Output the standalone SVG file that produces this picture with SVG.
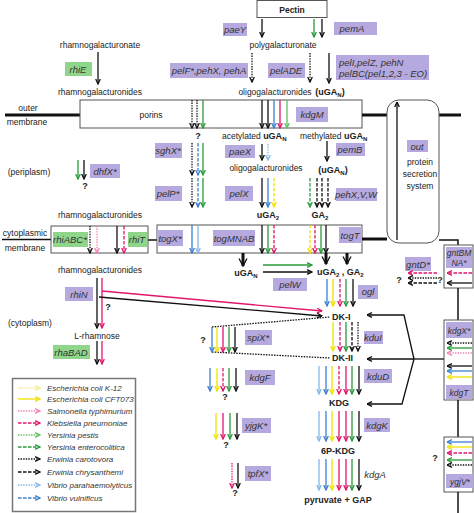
<svg xmlns="http://www.w3.org/2000/svg" width="474" height="513" viewBox="0 0 474 513">
<defs>
<style>
text{font-family:"Liberation Sans",Arial,sans-serif;font-size:8.5px;fill:#222}
.c{text-anchor:middle}
.bd{font-weight:bold;font-size:9px}
.it{font-style:italic;font-size:9.5px;text-anchor:middle;fill:#333}
.st{text-anchor:start}
.sm{font-size:8.5px}
.lg{font-style:italic;font-size:8px;fill:#333}
.pl{fill:#b6a9df}
.gl{fill:#8fd68b}
.bx{fill:#fff;stroke:#555;stroke-width:1}
.mem{fill:none;stroke:#111;stroke-width:3}
.ln{fill:none;stroke:#111;stroke-width:1.5}
path{fill:none;stroke-width:1.3}
.k{stroke:#111;marker-end:url(#mk)}
.g{stroke:#2a9a3a;marker-end:url(#mg)}
.lgr{stroke:#62bf62;marker-end:url(#mlg)}
.b{stroke:#3a80d0;marker-end:url(#mb)}
.lb{stroke:#86b7e6;marker-end:url(#mlb)}
.m{stroke:#e2166c;marker-end:url(#mm)}
.p{stroke:#ef82b8;marker-end:url(#mp)}
.y{stroke:#f0e200;marker-end:url(#my)}
.ly{stroke:#f2ec8c;marker-end:url(#mly)}
.kb{stroke:#111;stroke-width:3;marker-end:url(#mkb)}
.dt{stroke-dasharray:1.4 1.2}
.ds{stroke-dasharray:3.5 1.5}
.q{font-weight:bold;font-size:9px;text-anchor:middle}
</style>
<marker id="mk" viewBox="0 0 6 6" refX="5.5" refY="3" markerWidth="6" markerHeight="6" markerUnits="userSpaceOnUse" orient="auto"><path d="M0.5,0.7 L5.5,3 L0.5,5.3" fill="none" stroke="#111" stroke-width="1.3"/></marker>
<marker id="mg" viewBox="0 0 6 6" refX="5.5" refY="3" markerWidth="6" markerHeight="6" markerUnits="userSpaceOnUse" orient="auto"><path d="M0.5,0.7 L5.5,3 L0.5,5.3" fill="none" stroke="#2a9a3a" stroke-width="1.3"/></marker>
<marker id="mlg" viewBox="0 0 6 6" refX="5.5" refY="3" markerWidth="6" markerHeight="6" markerUnits="userSpaceOnUse" orient="auto"><path d="M0.5,0.7 L5.5,3 L0.5,5.3" fill="none" stroke="#62bf62" stroke-width="1.3"/></marker>
<marker id="mb" viewBox="0 0 6 6" refX="5.5" refY="3" markerWidth="6" markerHeight="6" markerUnits="userSpaceOnUse" orient="auto"><path d="M0.5,0.7 L5.5,3 L0.5,5.3" fill="none" stroke="#3a80d0" stroke-width="1.3"/></marker>
<marker id="mlb" viewBox="0 0 6 6" refX="5.5" refY="3" markerWidth="6" markerHeight="6" markerUnits="userSpaceOnUse" orient="auto"><path d="M0.5,0.7 L5.5,3 L0.5,5.3" fill="none" stroke="#86b7e6" stroke-width="1.3"/></marker>
<marker id="mm" viewBox="0 0 6 6" refX="5.5" refY="3" markerWidth="6" markerHeight="6" markerUnits="userSpaceOnUse" orient="auto"><path d="M0.5,0.7 L5.5,3 L0.5,5.3" fill="none" stroke="#e2166c" stroke-width="1.3"/></marker>
<marker id="mp" viewBox="0 0 6 6" refX="5.5" refY="3" markerWidth="6" markerHeight="6" markerUnits="userSpaceOnUse" orient="auto"><path d="M0.5,0.7 L5.5,3 L0.5,5.3" fill="none" stroke="#ef82b8" stroke-width="1.3"/></marker>
<marker id="my" viewBox="0 0 6 6" refX="5.5" refY="3" markerWidth="6" markerHeight="6" markerUnits="userSpaceOnUse" orient="auto"><path d="M0.5,0.7 L5.5,3 L0.5,5.3" fill="none" stroke="#f0e200" stroke-width="1.3"/></marker>
<marker id="mly" viewBox="0 0 6 6" refX="5.5" refY="3" markerWidth="6" markerHeight="6" markerUnits="userSpaceOnUse" orient="auto"><path d="M0.5,0.7 L5.5,3 L0.5,5.3" fill="none" stroke="#f2ec8c" stroke-width="1.3"/></marker>
<marker id="mkb" viewBox="0 0 10 10" refX="8.5" refY="5" markerWidth="10" markerHeight="10" markerUnits="userSpaceOnUse" orient="auto"><path d="M1,1 L8.5,5 L1,9" fill="none" stroke="#111" stroke-width="2.4"/></marker>
</defs>
<rect width="474" height="513" fill="#fff"/>

<!-- membranes and containers -->
<g id="outer-membrane">
<path class="mem" d="M5,115 H80"/>
<text x="28" y="111" class="c">outer</text>
<text x="27" y="125" class="c">membrane</text>
<rect id="porins-box" class="bx" x="80" y="100" width="282" height="28"/>
<text x="151" y="118" class="c">porins</text>
<path class="mem" d="M362,115 H387 M439,115 H461"/>
</g>
<g id="out-system">
<rect class="bx" x="387" y="100" width="52" height="143" rx="12" stroke="#333"/>
<rect class="pl" x="407" y="140" width="21" height="12"/>
<text x="417" y="150" class="it">out</text>
<text x="420" y="165" class="c">protein</text>
<text x="420" y="177" class="c">secretion</text>
<text x="420" y="189" class="c">system</text>
</g>
<g id="cyto-membrane">
<text x="25" y="236" class="c">cytoplasmic</text>
<path class="ln" d="M2,239.5 H51"/>
<text x="25" y="251" class="c">membrane</text>
<rect class="bx" x="51" y="226" width="97" height="27"/>
<path class="ln" d="M148,240 H157"/>
<rect class="bx" x="157" y="225" width="205" height="28"/>
<path class="mem" d="M362,239 H387"/>
<path class="ln" d="M439,240 H458 V245" stroke-width="2"/>
<rect class="bx" x="444" y="245" width="29" height="43"/>
<path class="ln" d="M458,288 V320" stroke-width="2"/>
<rect class="bx" x="444" y="320" width="29" height="80"/>
<path class="ln" d="M458,400 V437" stroke-width="2"/>
<rect class="bx" x="444" y="437" width="29" height="55"/>
<path class="ln" d="M458,492 V513" stroke-width="2"/>
</g>

<!-- top -->
<g id="pectin"><rect class="bx" x="257" y="0.5" width="70" height="17" stroke="#333"/><text x="292" y="13" class="c" font-weight="bold" font-size="11">Pectin</text></g>
<g id="paeY"><rect class="pl" x="223" y="23" width="24" height="13"/><text x="235" y="33" class="it">paeY</text></g>
<g id="pemA"><rect class="pl" x="334" y="22" width="43" height="13"/><text x="352" y="32" class="it">pemA</text></g>
<g id="polygalacturonate"><text x="283" y="48" class="c">polygalacturonate</text></g>
<g id="pelF"><rect class="pl" x="170" y="63" width="78" height="15"/><text x="209" y="74" class="it">pelF*,pehX, pehA</text></g>
<g id="pelADE"><rect class="pl" x="268" y="63" width="37" height="15"/><text x="286" y="74" class="it">pelADE</text></g>
<g id="pelI"><rect class="pl" x="336" y="55" width="93" height="25"/><text x="339" y="66" class="it st">pelI,pelZ, pehN</text><text x="339" y="77" class="it st">pelBC(pel1,2,3 - EO)</text></g>
<g id="oligo-top"><text x="275" y="95" class="c">oligogalacturonides</text><text x="330" y="95" class="c bd">(uGA<tspan font-size="6" dy="2">N</tspan><tspan dy="-2">)</tspan></text></g>
<g id="rhamnogalacturonate"><text x="100" y="48" class="c">rhamnogalacturonate</text></g>
<g id="rhiE"><rect class="gl" x="65" y="62" width="27" height="14"/><text x="78" y="73" class="it">rhiE</text></g>
<g id="rhamno-top"><text x="100" y="95" class="c">rhamnogalacturonides</text></g>
<g id="kdgM"><rect class="pl" x="296" y="107" width="32" height="15"/><text x="312" y="118" class="it">kdgM</text></g>
<g id="acetylated"><text x="222" y="139">acetylated <tspan font-weight="bold" font-size="9">uGA</tspan><tspan font-weight="bold" font-size="6" dy="2">N</tspan></text></g>
<g id="methylated"><text x="300" y="139">methylated <tspan font-weight="bold" font-size="9">uGA</tspan><tspan font-weight="bold" font-size="6" dy="2">N</tspan></text></g>

<!-- periplasm -->
<g id="periplasm"><text x="29" y="175" class="c">(periplasm)</text></g>
<g id="dhfX"><rect class="pl" x="90" y="164" width="30" height="14"/><text x="105" y="175" class="it">dhfX*</text></g>
<g id="sghX"><rect class="pl" x="155" y="143" width="27" height="15"/><text x="168" y="154" class="it">sghX*</text></g>
<g id="pelP"><rect class="pl" x="155" y="186" width="27" height="15"/><text x="168" y="197" class="it">pelP*</text></g>
<g id="paeX"><rect class="pl" x="225" y="145" width="30" height="13"/><text x="240" y="155" class="it">paeX</text></g>
<g id="oligo-mid"><text x="266" y="171" class="c">oligogalacturonides</text></g>
<g id="pelX"><rect class="pl" x="225" y="186" width="28" height="15"/><text x="239" y="197" class="it">pelX</text></g>
<g id="uGA2"><text x="268" y="218" class="c bd">uGA<tspan font-size="6" dy="2">2</tspan></text></g>
<g id="pemB"><rect class="pl" x="336" y="143" width="29" height="13"/><text x="350" y="153" class="it">pemB</text></g>
<g id="uGAN-mid"><text x="333" y="173" class="c bd">(uGA<tspan font-size="6" dy="2">N</tspan><tspan dy="-2">)</tspan></text></g>
<g id="pehXVW"><rect class="pl" x="336" y="188" width="41" height="13"/><text x="356" y="198" class="it">pehX,V,W</text></g>
<g id="GA2"><text x="320" y="218" class="c bd">GA<tspan font-size="6" dy="2">2</tspan></text></g>

<!-- membrane transporters -->
<g id="rhamno-mem"><text x="100" y="218" class="c">rhamnogalacturonides</text></g>
<g id="rhiABC"><rect class="gl" x="53" y="232" width="35" height="15"/><text x="70" y="243" class="it">rhiABC*</text></g>
<g id="rhiT"><rect class="gl" x="128" y="232" width="19" height="15"/><text x="137" y="243" class="it">rhiT</text></g>
<g id="togX"><rect class="pl" x="157" y="230" width="26" height="16"/><text x="170" y="242" class="it">togX*</text></g>
<g id="togMNAB"><rect class="pl" x="213" y="230" width="42" height="16"/><text x="234" y="242" class="it">togMNAB</text></g>
<g id="togT"><rect class="pl" x="339" y="227" width="23" height="16"/><text x="350" y="239" class="it">togT</text></g>

<!-- cytoplasm -->
<g id="uGAN-cyto"><text x="246" y="276" class="c bd">uGA<tspan font-size="6" dy="2">N</tspan></text></g>
<g id="pelW"><rect class="pl" x="273" y="278" width="34" height="13"/><text x="290" y="288" class="it">pelW</text></g>
<g id="uGA2GA2"><text x="317" y="275" class="bd">uGA<tspan font-size="6" dy="2">2</tspan><tspan dy="-2"> , GA</tspan><tspan font-size="6" dy="2">2</tspan></text></g>
<g id="ogl"><rect class="pl" x="358" y="285" width="20" height="14"/><text x="368" y="295" class="it">ogl</text></g>
<g id="DK-I"><text x="332" y="320" class="bd">DK-I</text></g>
<g id="kduI"><rect class="pl" x="364" y="331" width="19" height="13"/><text x="373" y="341" class="it">kduI</text></g>
<g id="DK-II"><text x="332" y="361" class="bd">DK-II</text></g>
<g id="kduD"><rect class="pl" x="364" y="369" width="28" height="14"/><text x="378" y="380" class="it">kduD</text></g>
<g id="KDG"><text x="339" y="406" class="c bd">KDG</text></g>
<g id="kdgK"><rect class="pl" x="364" y="418" width="26" height="14"/><text x="377" y="429" class="it">kdgK</text></g>
<g id="P-KDG"><text x="338" y="454" class="c bd">6P-KDG</text></g>
<g id="kdgA"><text x="375" y="478" class="it">kdgA</text></g>
<g id="pyruvate"><text x="338" y="503" class="c bd">pyruvate + GAP</text></g>
<g id="rhamno-cyto"><text x="100" y="273" class="c">rhamnogalacturonides</text></g>
<g id="rhiN"><rect class="pl" x="65" y="287" width="28" height="14"/><text x="79" y="298" class="it">rhiN</text></g>
<g id="cytoplasm"><text x="30" y="326" class="c">(cytoplasm)</text></g>
<g id="L-rhamnose"><text x="97" y="339" class="c">L-rhamnose</text></g>
<g id="rhaBAD"><rect class="gl" x="53" y="345" width="37" height="14"/><text x="71" y="356" class="it">rhaBAD</text></g>
<g id="spiX"><rect class="pl" x="245" y="330" width="27" height="15"/><text x="258" y="341" class="it">spiX*</text></g>
<g id="kdgF"><rect class="pl" x="245" y="370" width="30" height="15"/><text x="260" y="381" class="it">kdgF</text></g>
<g id="yjgK"><rect class="pl" x="242" y="418" width="29" height="15"/><text x="256" y="429" class="it">yjgK*</text></g>
<g id="tpfX"><rect class="pl" x="245" y="466" width="26" height="15"/><text x="258" y="477" class="it">tpfX*</text></g>
<g id="gntD"><rect class="pl" x="405" y="257" width="26" height="14"/><text x="418" y="268" class="it">gntD*</text></g>
<g id="gntBMNA"><rect class="pl" x="446" y="247" width="26" height="21"/><text x="459" y="256" class="it sm">gntBM</text><text x="459" y="266" class="it sm">NA*</text></g>
<g id="kdgX"><rect class="pl" x="446" y="322" width="26" height="16"/><text x="459" y="334" class="it sm">kdgX*</text></g>
<g id="kdgT"><rect class="pl" x="446" y="385" width="26" height="14"/><text x="459" y="396" class="it sm">kdgT</text></g>
<g id="ygjV"><rect class="pl" x="446" y="474" width="27" height="14"/><text x="460" y="485" class="it sm">ygjV*</text></g>

<g id="questions">
<text x="198" y="139" class="q">?</text>
<text x="85" y="189" class="q">?</text>
<text x="108" y="310" class="q">?</text>
<text x="203" y="343" class="q">?</text>
<text x="225" y="400" class="q">?</text>
<text x="226" y="448" class="q">?</text>
<text x="235" y="496" class="q">?</text>
<text x="399" y="283" class="q">?</text>
<text x="440" y="283" class="q">?</text>
<text x="435" y="461" class="q">?</text>
</g>

<g id="connectors">
<path class="k" d="M262,19 V37"/>
<path class="g" d="M314,19 V37"/>
<path class="k" d="M322,19 V37"/>
<path class="k dt" d="M252,53 V82"/>
<path class="k dt" d="M310,53 V82"/>
<path class="k" d="M329,53 V83"/>
<path class="k" d="M98,52 V84"/>
<path class="k dt" d="M192,100 V128"/>
<path class="k dt" d="M197,100 V128"/>
<path class="g" d="M203,100 V128"/>
<path class="k" d="M262,100 V128"/>
<path class="k" d="M268,100 V128"/>
<path class="b" d="M274,100 V128"/>
<path class="m" d="M280,100 V128"/>
<path class="lgr" d="M287,100 V128"/>
<path class="k" d="M397,240 V102"/>
<path class="g" d="M78,160 V179"/>
<path class="k" d="M84,160 V179"/>
<path class="k dt" d="M192,143 V175"/>
<path class="b ds" d="M198,143 V175"/>
<path class="g" d="M203,143 V175"/>
<path class="k dt" d="M192,178 V207"/>
<path class="b ds" d="M198,178 V207"/>
<path class="g" d="M203,178 V207"/>
<path class="k" d="M262,144 V160"/>
<path class="lb dt" d="M268,144 V160"/>
<path class="k" d="M262,178 V207"/>
<path class="b" d="M268,178 V207"/>
<path class="y ds" d="M274,178 V207"/>
<path class="k" d="M327,141 V161"/>
<path class="g ds" d="M310,178 V207"/>
<path class="k ds" d="M317,178 V207"/>
<path class="k ds" d="M322,178 V207"/>
<path class="k ds" d="M328,178 V207"/>
<path class="k dt" d="M90,226 V253"/>
<path class="p dt" d="M97,226 V253"/>
<path class="k" d="M117,226 V253"/>
<path class="m ds" d="M124,226 V253"/>
<path class="b" d="M192,225 V253"/>
<path class="lb" d="M198,225 V253"/>
<path class="k" d="M262,225 V253"/>
<path class="g" d="M268,225 V253"/>
<path class="m ds" d="M274,225 V253"/>
<path class="y ds" d="M310,225 V253"/>
<path class="m ds" d="M315,225 V253"/>
<path class="g" d="M321,225 V253"/>
<path class="k" d="M326,225 V253"/>
<path class="kb" d="M243,253 V266"/>
<path class="kb" d="M326,253 V264"/>
<path class="kb" d="M347,253 V264"/>
<path class="g" d="M263,265 H312"/>
<path class="k" d="M263,272 H312"/>
<path class="b" d="M327,279 V306"/>
<path class="y" d="M333,279 V306"/>
<path class="m ds" d="M340,279 V306"/>
<path class="g" d="M346,279 V306"/>
<path class="k" d="M353,279 V306"/>
<path class="y" d="M333,322 V351"/>
<path class="m ds" d="M340,322 V351"/>
<path class="g" d="M346,322 V351"/>
<path class="k ds" d="M352,322 V351"/>
<path class="k dt" d="M358,322 V351"/>
<path class="lb" d="M319,366 V394"/>
<path class="b" d="M326,366 V394"/>
<path class="y" d="M332,366 V394"/>
<path class="m ds" d="M339,366 V394"/>
<path class="m" d="M346,366 V394"/>
<path class="g" d="M352,366 V394"/>
<path class="k" d="M359,366 V394"/>
<path class="lb" d="M319,411 V441"/>
<path class="b" d="M326,411 V441"/>
<path class="y" d="M332,411 V441"/>
<path class="m" d="M339,411 V441"/>
<path class="m" d="M346,411 V441"/>
<path class="g" d="M352,411 V441"/>
<path class="k" d="M359,411 V441"/>
<path class="lb" d="M319,459 V490"/>
<path class="b" d="M326,459 V490"/>
<path class="y" d="M332,459 V490"/>
<path class="m" d="M339,459 V490"/>
<path class="m" d="M346,459 V490"/>
<path class="g" d="M352,459 V490"/>
<path class="k" d="M359,459 V490"/>
<path class="k" d="M97,278 V328"/>
<path class="m" d="M102,278 V328"/>
<path class="m" d="M102,291 L322,311"/>
<path class="k" d="M99,297 L322,316"/>
<path class="k" d="M97,341 V364"/>
<path class="m" d="M102,341 V364"/>
<path d="M212,327 L330,317 M212,352 L330,358" stroke="#111" stroke-width="1" stroke-dasharray="1.5 1.2"/>
<path class="b" d="M212,327 V352"/>
<path class="y" d="M217,327 V352"/>
<path class="m" d="M223,327 V352"/>
<path class="g" d="M229,327 V352"/>
<path class="k" d="M235,327 V352"/>
<path class="b" d="M210,368 V391"/>
<path class="y" d="M217,368 V391"/>
<path class="m ds" d="M223,368 V391"/>
<path class="g" d="M229,368 V391"/>
<path class="k" d="M236,368 V391"/>
<path class="y" d="M216,413 V439"/>
<path class="m" d="M223,413 V439"/>
<path class="g" d="M230,413 V439"/>
<path class="k" d="M237,413 V439"/>
<path class="m dt" d="M232,463 V488"/>
<path class="k" d="M238,463 V488"/>
<path class="m ds" d="M437,273 H408"/>
<path class="k dt" d="M437,278 H408"/>
<path class="k ds" d="M437,283 H408" stroke-width="1.8"/>
<path class="m ds" d="M472,273 H447"/>
<path class="k" d="M472,283 H447"/>
<path class="k dt" d="M472,343 H447"/>
<path class="g" d="M472,348 H447"/>
<path class="p dt" d="M472,353 H447"/>
<path class="k" d="M472,366 H447"/>
<path class="b" d="M472,371 H447"/>
<path class="y" d="M472,377 H447"/>
<path class="b" d="M472,442 H447"/>
<path class="y" d="M472,447 H447"/>
<path class="m ds" d="M472,453 H447"/>
<path class="g" d="M472,460 H447"/>
<path class="k dt" d="M472,465 H447"/>
<path d="M444,359 H414" stroke="#111"/>
<path class="k" d="M414,359 L404,315 H367"/>
<path class="k" d="M414,359 H367"/>
<path class="k" d="M414,359 L402,404 H367"/>
</g>

<g id="legend">
<rect x="12.5" y="378.5" width="123" height="133" fill="#fff" stroke="#777" stroke-width="1.5"/>
<path class="ly dt" d="M18,388 H40"/><text x="47" y="391" class="lg">Escherichia coli K-12</text>
<path class="y" d="M18,399 H40"/><text x="47" y="402" class="lg">Escherichia coli CFT073</text>
<path class="p dt" d="M18,411 H40"/><text x="47" y="414" class="lg">Salmonella typhimurium</text>
<path class="m ds" d="M18,423 H40"/><text x="47" y="426" class="lg">Klebsiella pneumoniae</text>
<path class="lgr dt" d="M18,435 H40"/><text x="47" y="438" class="lg">Yersinia pestis</text>
<path class="g ds" d="M18,447 H40"/><text x="47" y="450" class="lg">Yersinia enterocolitica</text>
<path class="k dt" d="M18,459 H40"/><text x="47" y="462" class="lg">Erwinia carotovora</text>
<path class="k ds" d="M18,472 H40" stroke-width="1.8"/><text x="47" y="475" class="lg">Erwinia chrysanthemi</text>
<path class="lb dt" d="M18,485 H40"/><text x="47" y="488" class="lg">Vibrio parahaemolyticus</text>
<path class="b ds" d="M18,498 H40"/><text x="47" y="501" class="lg">Vibrio vulnificus</text>
</g>
</svg>
